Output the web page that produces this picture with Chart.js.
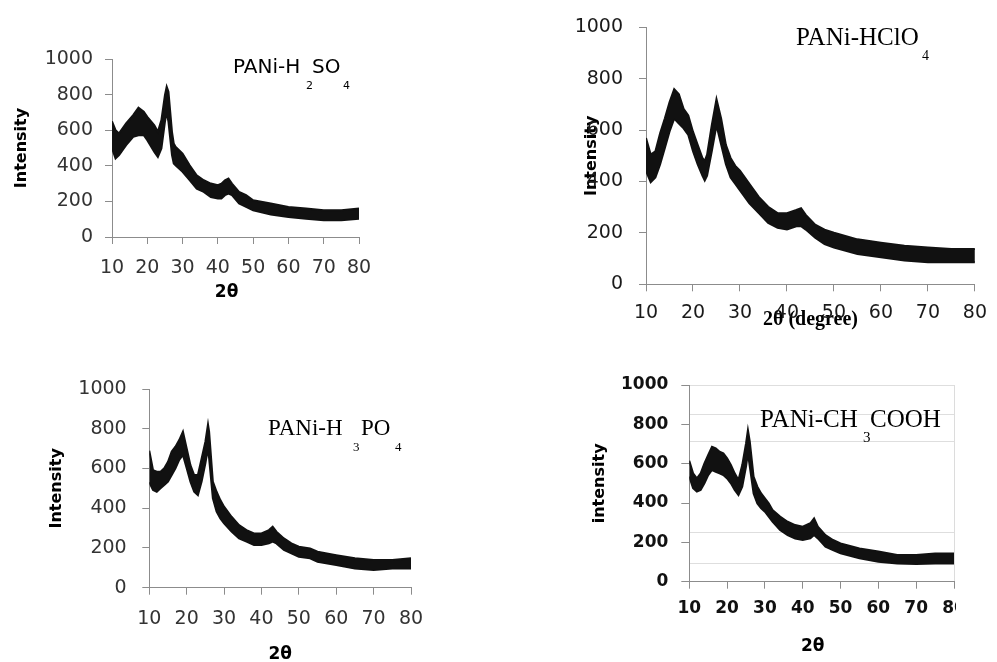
<!DOCTYPE html>
<html><head><meta charset="utf-8">
<script src="https://cdn.jsdelivr.net/npm/chart.js@4.4.1/dist/chart.umd.min.js"></script>
<style>
html,body{margin:0;padding:0;background:#fff;width:997px;height:662px;overflow:hidden}
.layer{position:absolute;left:0;top:0;width:997px;height:662px}
#clip4{position:absolute;left:0;top:0;width:956px;height:662px;overflow:hidden}
</style></head><body>
<div class="layer"><canvas id="c1" width="997" height="662"></canvas></div>
<div class="layer"><canvas id="c2" width="997" height="662"></canvas></div>
<div class="layer"><canvas id="c3" width="997" height="662"></canvas></div>
<div id="clip4"><canvas id="c4" width="997" height="662"></canvas></div>
<script>
// ---------- data (2θ in degrees, intensity band upper / lower edge) ----------
const xTicks = [10, 20, 30, 40, 50, 60, 70, 80];
const yTicks = [0, 200, 400, 600, 800, 1000];

const h2so4Angle = [10, 11, 12, 14, 16, 17.5, 19, 20, 22, 23, 24, 25, 25.5, 26, 27, 27.5, 28, 30, 32, 34, 36, 38, 40, 41, 42, 43, 44, 46, 48, 50, 55, 60, 65, 70, 75, 80];
const h2so4Upper = [650, 600, 582, 638, 685, 726, 704, 675, 628, 591, 657, 797, 844, 816, 591, 525, 507, 469, 403, 347, 319, 300, 291, 300, 319, 328, 300, 253, 235, 206, 188, 169, 160, 150, 150, 160];
const h2so4Lower = [500, 441, 460, 516, 563, 572, 572, 544, 478, 450, 497, 647, 703, 647, 460, 413, 403, 366, 319, 272, 253, 225, 216, 216, 235, 244, 235, 188, 169, 150, 126, 113, 103, 94, 94, 103];

const hclo4Angle = [10, 11, 12, 13, 14, 15, 16, 17, 18, 19, 20, 21, 22, 22.5, 23, 24, 25, 26, 27, 28, 29, 30, 32, 34, 36, 38, 40, 42, 43, 44, 46, 48, 50, 55, 60, 65, 70, 75, 80];
const hclo4Upper = [569, 505, 518, 588, 645, 708, 760, 740, 683, 657, 594, 543, 492, 480, 505, 619, 721, 645, 543, 492, 461, 442, 391, 340, 302, 277, 277, 289, 296, 270, 232, 213, 201, 175, 162, 150, 143, 137, 137];
const hclo4Lower = [442, 397, 416, 467, 530, 594, 645, 626, 607, 581, 518, 467, 423, 404, 423, 518, 619, 543, 467, 416, 391, 365, 315, 277, 239, 220, 213, 226, 226, 213, 181, 156, 143, 118, 105, 93, 86, 86, 86];

const h3po4Angle = [10, 11, 12, 13, 14, 15, 16, 17, 18, 19, 20, 21, 22, 23, 24, 25, 25.7, 26, 27, 28, 29, 30, 32, 34, 36, 38, 40, 42, 43, 44, 46, 48, 50, 53, 55, 60, 65, 70, 75, 80];
const h3po4Upper = [690, 592, 584, 584, 601, 634, 685, 710, 743, 785, 701, 617, 567, 567, 651, 735, 822, 785, 534, 483, 441, 408, 357, 315, 290, 273, 273, 290, 307, 282, 248, 223, 206, 198, 181, 164, 148, 139, 139, 148];
const h3po4Lower = [530, 492, 483, 500, 517, 534, 567, 601, 643, 668, 601, 534, 483, 466, 534, 626, 701, 651, 450, 383, 349, 324, 282, 248, 232, 215, 215, 223, 232, 223, 190, 173, 156, 148, 131, 114, 97, 89, 97, 97];

const acetAngle = [10, 11, 12, 13, 14, 15, 16, 17, 18, 19, 20, 21, 22, 23, 24, 25, 25.5, 26, 27, 28, 29, 30, 31, 32, 34, 36, 38, 40, 42, 43, 44, 46, 48, 50, 55, 60, 65, 70, 75, 80];
const acetUpper = [615, 551, 525, 551, 602, 644, 686, 678, 661, 653, 627, 593, 551, 517, 593, 703, 771, 712, 534, 483, 449, 424, 398, 364, 331, 305, 288, 280, 297, 322, 280, 237, 212, 195, 169, 153, 136, 136, 144, 144];
const acetLower = [534, 475, 458, 466, 500, 542, 568, 559, 551, 542, 525, 500, 466, 441, 483, 585, 653, 585, 449, 398, 373, 356, 331, 305, 263, 237, 220, 212, 220, 237, 220, 178, 161, 144, 119, 102, 93, 90, 93, 93];

// faint reference lines visible in the CH3COOH panel
const acetGridValues = [94, 249, 715, 851, 1000];

// ---------- plugin: sample labels with subscripts ----------
const textPieces = {
  id: 'textPieces',
  afterDraw(chart, args, opts) {
    const ctx = chart.ctx;
    ctx.save();
    ctx.fillStyle = opts.color || '#000';
    ctx.textBaseline = 'alphabetic';
    ctx.textAlign = 'left';
    (opts.pieces || []).forEach(p => { ctx.font = p.font; ctx.fillText(p.text, p.x, p.y); });
    ctx.restore();
  }
};

function pts(ax, ys) { return ax.map((a, i) => ({x: a, y: ys[i]})); }

function makeChart(id, s) {
  const W = 997, H = 662;
  const xTitleLH = s.xTitleFont.size * 1.2;
  const yTitleLH = s.yTitleFont.size * 1.2;
  const xH = s.xTitleCenter - s.area.bottom + xTitleLH / 2;
  const padLeft = s.scaleLeft;
  const yTitleTop = s.yTitleCenter - yTitleLH / 2 - padLeft;
  const yW = s.area.left - padLeft;
  const axisGray = '#8c8c8c';
  const scales = {
    x: {
      type: 'linear', min: xTicks[0], max: xTicks[xTicks.length - 1],
      afterBuildTicks: sc => { sc.ticks = xTicks.map(v => ({value: v})); },
      ticks: {autoSkip: false, maxRotation: 0, minRotation: 0, padding: s.xTickPad, color: s.tickColor, font: s.tickFont,
              callback: v => String(v)},
      grid: {
        display: true, drawOnChartArea: !!s.borderAt80,
        color: c => (s.borderAt80 && c.tick && c.tick.value === 80) ? '#dcdcdc' : 'rgba(0,0,0,0)',
        tickColor: axisGray, tickLength: 7
      },
      border: {display: true, color: axisGray, width: 1},
      title: {display: true, text: s.xTitle, font: s.xTitleFont, color: '#000', padding: 0},
      afterFit: sc => { sc.height = xH; }
    },
    y: {
      type: 'linear', position: 'left', min: 0, max: 1000,
      afterBuildTicks: sc => { sc.ticks = yTicks.map(v => ({value: v})); },
      ticks: {padding: s.yTickPad, color: s.tickColor, font: s.tickFont, callback: v => String(v)},
      grid: {display: true, drawOnChartArea: false, tickColor: axisGray, tickLength: s.yTickLen || 7},
      border: {display: true, color: axisGray, width: 1},
      title: {display: true, text: s.yTitle, font: s.yTitleFont, color: '#000', padding: {top: yTitleTop, bottom: 0}},
      afterFit: sc => { sc.width = yW; }
    }
  };
  if (s.extraGrid) {
    scales.y2 = {
      type: 'linear', position: 'right', min: 0, max: 1000,
      afterBuildTicks: sc => { sc.ticks = s.extraGrid.map(v => ({value: v})); },
      ticks: {display: false},
      grid: {drawTicks: false, color: '#dedede', drawOnChartArea: true},
      border: {display: false},
      afterFit: sc => { sc.width = 0; }
    };
  }
  return new Chart(document.getElementById(id), {
    type: 'line',
    data: {
      datasets: [
        {data: pts(s.angle, s.upper), borderColor: '#111', backgroundColor: '#111', borderWidth: 2,
         pointRadius: 0, tension: 0, fill: '+1', xAxisID: 'x', yAxisID: 'y'},
        {data: pts(s.angle, s.lower), borderColor: '#111', backgroundColor: '#111', borderWidth: 2,
         pointRadius: 0, tension: 0, fill: false, xAxisID: 'x', yAxisID: 'y'}
      ]
    },
    options: {
      responsive: false, animation: false, devicePixelRatio: 1,
      layout: {padding: {left: padLeft, top: s.area.top, right: W - s.area.right, bottom: H - s.area.bottom - xH}},
      scales,
      plugins: {legend: {display: false}, tooltip: {enabled: false}, title: {display: false},
                textPieces: {pieces: s.labels}}
    },
    plugins: [textPieces]
  });
}

const sansTick = {family: 'DejaVu Sans', size: 19};
const boldTitle = {family: 'DejaVu Sans', size: 16, weight: 'bold'};
const boldX = {family: 'DejaVu Sans', size: 17, weight: 'bold'};

makeChart('c1', {
  angle: h2so4Angle, upper: h2so4Upper, lower: h2so4Lower,
  area: {left: 112, top: 59, right: 359, bottom: 237}, scaleLeft: 5,
  tickFont: sansTick, tickColor: '#333', yTickPad: 12, xTickPad: 13,
  yTitle: 'Intensity', yTitleFont: boldTitle, yTitleCenter: 22,
  xTitle: '2θ   ', xTitleFont: boldX, xTitleCenter: 293,
  labels: [
    {text: 'PANi-H', x: 233, y: 73, font: '20px "DejaVu Sans"'},
    {text: '2', x: 306, y: 89, font: '11px "DejaVu Sans"'},
    {text: 'SO', x: 312, y: 73, font: '20px "DejaVu Sans"'},
    {text: '4', x: 343, y: 89, font: '11px "DejaVu Sans"'}
  ]
});

makeChart('c2', {
  angle: hclo4Angle, upper: hclo4Upper, lower: hclo4Lower,
  area: {left: 646, top: 21.5, right: 983, bottom: 284.3}, scaleLeft: 540,
  tickFont: sansTick, tickColor: '#1a1a1a', yTickPad: 16, xTickPad: 10,
  yTitle: 'Intensity', yTitleFont: boldTitle, yTitleCenter: 592,
  xTitle: '2θ (degree)', xTitleFont: {family: 'Liberation Serif', size: 20, weight: 'bold'}, xTitleCenter: 320,
  labels: [
    {text: 'PANi-HClO', x: 796, y: 45, font: '25px "Liberation Serif"'},
    {text: '4', x: 922, y: 60, font: '14px "Liberation Serif"'}
  ]
});

makeChart('c3', {
  angle: h3po4Angle, upper: h3po4Upper, lower: h3po4Lower,
  area: {left: 149.3, top: 389, right: 411, bottom: 587.7}, scaleLeft: 30,
  tickFont: sansTick, tickColor: '#333', yTickPad: 15.6, xTickPad: 13,
  yTitle: 'Intensity', yTitleFont: boldTitle, yTitleCenter: 57,
  xTitle: '2θ', xTitleFont: boldX, xTitleCenter: 655,
  labels: [
    {text: 'PANi-H', x: 268, y: 435, font: '23px "Liberation Serif"'},
    {text: '3', x: 353, y: 450.7, font: '13px "Liberation Serif"'},
    {text: 'PO', x: 361, y: 435, font: '23px "Liberation Serif"'},
    {text: '4', x: 395, y: 450.7, font: '13px "Liberation Serif"'}
  ]
});

makeChart('c4', {
  angle: acetAngle, upper: acetUpper, lower: acetLower,
  area: {left: 689.3, top: 385, right: 954, bottom: 581.7}, scaleLeft: 570,
  tickFont: {family: 'DejaVu Sans', size: 17, weight: 'bold'}, tickColor: '#111', yTickPad: 13, xTickPad: 10, yTickLen: 8,
  yTitle: 'intensity', yTitleFont: {family: 'DejaVu Sans', size: 16, weight: 'bold'}, yTitleCenter: 600,
  xTitle: '2θ   ', xTitleFont: boldX, xTitleCenter: 647,
  extraGrid: acetGridValues, borderAt80: true,
  labels: [
    {text: 'PANi-CH', x: 760, y: 426.7, font: '25px "Liberation Serif"'},
    {text: '3', x: 863, y: 441.7, font: '15px "Liberation Serif"'},
    {text: 'COOH', x: 870, y: 426.7, font: '25px "Liberation Serif"'}
  ]
});
</script>
</body></html>
